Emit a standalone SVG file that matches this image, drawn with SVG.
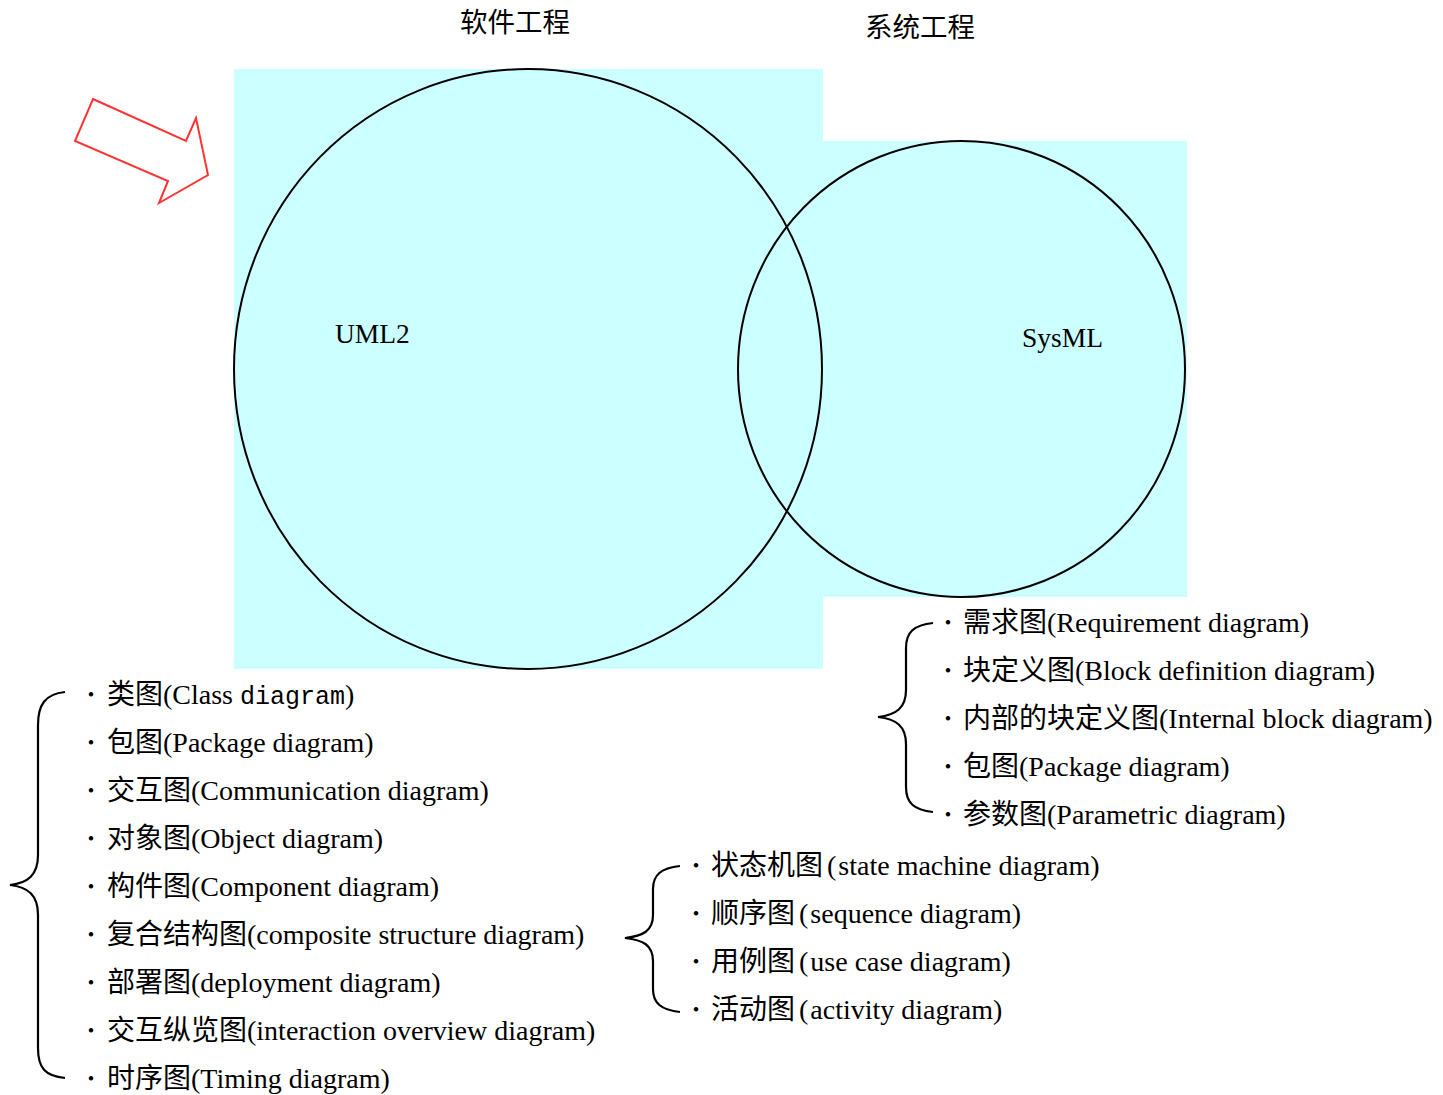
<svg xmlns="http://www.w3.org/2000/svg" width="1443" height="1095" viewBox="0 0 1443 1095">
<style>
.t{font-family:"Liberation Serif","Noto Sans CJK SC",serif;font-size:28px;fill:#000}
.h{font-family:"Liberation Serif","Noto Sans CJK SC",serif;font-size:27.5px;fill:#000}
.b{font-family:"Noto Sans CJK SC",sans-serif;font-size:21px;fill:#000;text-anchor:middle}
.br{fill:none;stroke:#000;stroke-width:2.2}
.c{fill:none;stroke:#000;stroke-width:2}
.m{font-family:"Liberation Mono",monospace;font-size:25px}
</style>
<rect width="1443" height="1095" fill="#fff"/>
<g id="background">
<path d="M234 69H823V141H1187V597H823V669H234Z" fill="#CCFFFF"/>
</g>
<g id="uml2">
<ellipse class="c" cx="528" cy="369" rx="294" ry="300"/>
<text class="h" x="335" y="343">UML2</text>
</g>
<g id="sysml">
<ellipse class="c" cx="961.5" cy="369" rx="223.5" ry="228"/>
<text class="h" x="1022" y="347">SysML</text>
</g>
<g id="titles">
<text class="h" x="460" y="32">软件工程</text>
<text class="h" x="865" y="37">系统工程</text>
</g>
<g id="arrow">
<polygon points="93,99 186,141 196,118 208,175 159,203 168,181 75,141" fill="none" stroke="#FF3333" stroke-width="2"/>
</g>
<g id="connectors">
<path class="br" d="M65 692C45 694 38 705 38 725V855C38 875 28 883 10 885C28 887 38 895 38 915V1048C38 1068 45 1076 65 1078"/>
<path class="br" d="M933 623C914 625 906 632 906 648V690C906 708 896 715 878 717C896 719 906 726 906 744V787C906 803 914 810 933 812"/>
<path class="br" d="M680 866C661 868 653 875 653 889V915C653 931 643 936 625 938C643 940 653 945 653 961V989C653 1003 661 1010 680 1012"/>
</g>
<g id="uml-list">
<text class="b" x="91" y="702">・</text>
<text class="t" x="107" y="704">类图(Class <tspan class="m">diagram</tspan>)</text>
<text class="b" x="91" y="750">・</text>
<text class="t" x="107" y="752">包图(Package diagram)</text>
<text class="b" x="91" y="798">・</text>
<text class="t" x="107" y="800">交互图(Communication diagram)</text>
<text class="b" x="91" y="846">・</text>
<text class="t" x="107" y="848">对象图(Object diagram)</text>
<text class="b" x="91" y="894">・</text>
<text class="t" x="107" y="896">构件图(Component diagram)</text>
<text class="b" x="91" y="942">・</text>
<text class="t" x="107" y="944">复合结构图(composite structure diagram)</text>
<text class="b" x="91" y="990">・</text>
<text class="t" x="107" y="992">部署图(deployment diagram)</text>
<text class="b" x="91" y="1038">・</text>
<text class="t" x="107" y="1040">交互纵览图(interaction overview diagram)</text>
<text class="b" x="91" y="1086">・</text>
<text class="t" x="107" y="1088">时序图(Timing diagram)</text>
</g>
<g id="sysml-list">
<text class="b" x="948" y="630">・</text>
<text class="t" x="963" y="632">需求图(Requirement diagram)</text>
<text class="b" x="948" y="678">・</text>
<text class="t" x="963" y="680">块定义图(Block definition diagram)</text>
<text class="b" x="948" y="726">・</text>
<text class="t" x="963" y="728">内部的块定义图(Internal block diagram)</text>
<text class="b" x="948" y="774">・</text>
<text class="t" x="963" y="776">包图(Package diagram)</text>
<text class="b" x="948" y="822">・</text>
<text class="t" x="963" y="824">参数图(Parametric diagram)</text>
</g>
<g id="shared-list">
<text class="b" x="696" y="873">・</text>
<text class="t" x="711" y="875">状态机图<tspan dx="4">(</tspan><tspan dx="2">state machine diagram)</tspan></text>
<text class="b" x="696" y="921">・</text>
<text class="t" x="711" y="923">顺序图<tspan dx="4">(</tspan><tspan dx="2">sequence diagram)</tspan></text>
<text class="b" x="696" y="969">・</text>
<text class="t" x="711" y="971">用例图<tspan dx="4">(</tspan><tspan dx="2">use case diagram)</tspan></text>
<text class="b" x="696" y="1017">・</text>
<text class="t" x="711" y="1019">活动图<tspan dx="4">(</tspan><tspan dx="2">activity diagram)</tspan></text>
</g>
</svg>
